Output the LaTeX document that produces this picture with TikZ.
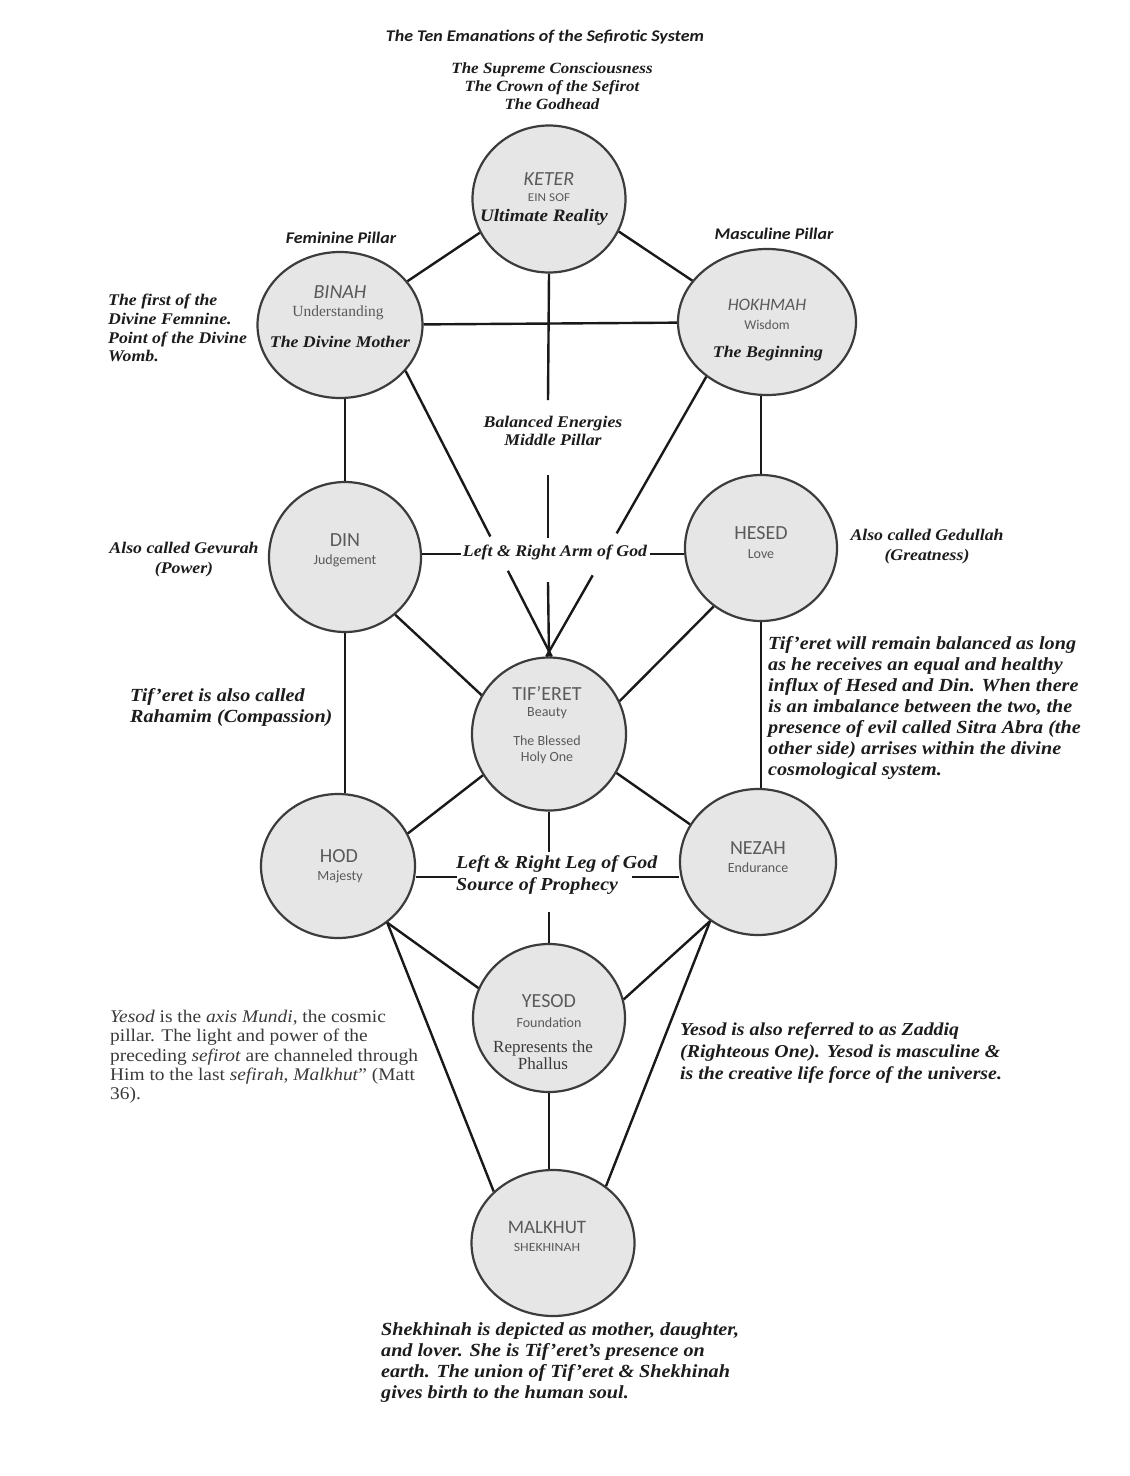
\documentclass[tikz,border=0pt]{standalone}
\usepackage{fontspec}
\setmainfont{Liberation Serif}
\newfontfamily\wserif[FakeStretch=1.09]{Liberation Serif}
\newfontfamily\carl{Carlito}
\newfontfamily\wsans[FakeStretch=1.1]{Carlito}
\usetikzlibrary{shapes.geometric,calc}
\definecolor{fillg}{HTML}{E6E6E6}
\definecolor{edgeg}{HTML}{3C3C3C}
\definecolor{labg}{HTML}{5A5A5A}
\definecolor{ink}{HTML}{1C1C1C}
\definecolor{plain}{HTML}{3A3A3A}
\tikzset{
  sef/.style={ellipse, draw=edgeg, fill=fillg, line width=2.2pt, inner sep=0pt},
  conn/.style={line width=2.4pt, draw=black!90},
  nm/.style={font=\carl\fontsize{20}{22}\selectfont, text=labg, inner sep=0pt},
  nmi/.style={font=\carl\itshape\fontsize{20}{22}\selectfont, text=labg, inner sep=0pt},
  sub/.style={font=\carl\fontsize{14}{16}\selectfont, text=labg, inner sep=0pt},
  subs/.style={font=\wsans\fontsize{12}{14}\selectfont, text=labg, inner sep=0pt},
  note/.style={font=\wserif\bfseries\itshape\fontsize{18.5}{21}\selectfont, text=ink, inner sep=0pt},
  noteb/.style={font=\wserif\bfseries\itshape\fontsize{16.3}{18}\selectfont, text=ink, inner sep=0pt},
  head/.style={font=\wsans\bfseries\itshape\fontsize{16.3}{18}\selectfont, text=ink, inner sep=0pt},
}
\begin{document}
\begin{tikzpicture}[x=1pt,y=-1pt]
\useasboundingbox (0,0) rectangle (1130,1476);
\fill[white] (0,0) rectangle (1130,1476);

% sefirot
\node[sef, minimum width=153pt, minimum height=147pt] (keter) at (549,199) {};
\node[sef, minimum width=165pt, minimum height=146pt] (binah) at (340,325) {};
\node[sef, minimum width=178pt, minimum height=146pt] (hokhmah) at (767,322) {};
\node[sef, minimum width=152pt, minimum height=150pt] (din) at (345,557) {};
\node[sef, minimum width=152pt, minimum height=146pt] (hesed) at (761,548) {};
\node[sef, minimum width=154pt, minimum height=153pt] (tiferet) at (549,734) {};
\node[sef, minimum width=154pt, minimum height=144pt] (hod) at (338,866) {};
\node[sef, minimum width=156pt, minimum height=146pt] (nezah) at (758,862) {};
\node[sef, minimum width=152pt, minimum height=148pt] (yesod) at (549,1018) {};
\node[sef, minimum width=163pt, minimum height=146pt] (malkhut) at (553,1243) {};

% gap coordinates
\coordinate (mpA) at (548,400);
\coordinate (mpB) at (548,475);
\coordinate (mpC) at (548,538);
\coordinate (mpD) at (548,582);
\coordinate (armL) at (461,554);
\coordinate (armR) at (650,554);
\coordinate (legL) at (457,877);
\coordinate (legR) at (632,877);
\coordinate (legT) at (549,852);
\coordinate (legB) at (549,912);

% connectors
\draw[conn] (keter.206) -- (binah.33);
\draw[conn] (keter.335) -- (hokhmah.151);
\draw[conn] (binah) -- (hokhmah);
\draw[conn] (keter.south) -- (mpA);
\draw[conn] (mpB) -- (mpC);
\draw[conn] (mpD) -- (tiferet.north);
\draw[conn] (din.north) -- (din.north |- binah.south);
\draw[conn] (hesed.north) -- (hesed.north |- hokhmah.south);
\draw[conn] (binah.325) -- ($(binah.325)!0.58!(tiferet.88)$);
\draw[conn] ($(binah.325)!0.70!(tiferet.88)$) -- (tiferet.88);
\draw[conn] (hokhmah.222) -- ($(hokhmah.222)!0.56!(tiferet.92)$);
\draw[conn] ($(hokhmah.222)!0.71!(tiferet.92)$) -- (tiferet.92);
\draw[conn] (armL -| din.east) -- (armL);
\draw[conn] (armR) -- (armR -| hesed.west);
\draw[conn] (din.311) -- (tiferet.150);
\draw[conn] (hesed.231) -- (tiferet.25);
\draw[conn] (din.south) -- (din.south |- hod.north);
\draw[conn] (hesed.south) -- (hesed.south |- nezah.north);
\draw[conn] (tiferet.212) -- (hod.25);
\draw[conn] (tiferet.330) -- (nezah.151);
\draw[conn] (tiferet.south) -- (legT);
\draw[conn] (legB) -- (yesod.north);
\draw[conn] (legL -| hod.east) -- (legL);
\draw[conn] (legR) -- (legR -| nezah.west);
\draw[conn] (hod.311) -- (yesod.157);
\draw[conn] (hod.311) -- (malkhut.139);
\draw[conn] (nezah.231) -- (yesod.14);
\draw[conn] (nezah.231) -- (malkhut.47);
\draw[conn] (yesod.south) -- (yesod.south |- malkhut.north);

% headings
\node[head] (title) at (545,37) {The Ten Emanations of the Sefirotic System};
\node[noteb, font=\wserif\bfseries\itshape\fontsize{15.6}{18}\selectfont, align=center, anchor=north] (crown) at (552,62)
  {The Supreme Consciousness\\The Crown of the Sefirot\\The Godhead};
\node[head] (fem) at (341,238) {Feminine Pillar};
\node[head] (masc) at (774,234) {Masculine Pillar};

% labels inside circles
\node[nmi] (lketer) at (549,179) {KETER};
\node[subs] (lein) at (549,198) {EIN SOF};
\node[note, font=\wserif\bfseries\itshape\fontsize{17.5}{19}\selectfont] (lult) at (544,217) {Ultimate Reality};

\node[nmi] (lbinah) at (340,292) {BINAH};
\node[inner sep=0pt, text=labg, font=\fontsize{15.5}{17}\selectfont] (lund) at (338,313) {Understanding};
\node[noteb] (lmother) at (340,342) {The Divine Mother};

\node[nmi, font=\carl\itshape\fontsize{17.5}{19}\selectfont] (lhok) at (767,305) {HOKHMAH};
\node[sub, font=\carl\fontsize{13.5}{15}\selectfont] (lwis) at (767,325) {Wisdom};
\node[noteb] (lbeg) at (768,354) {The Beginning};

\node[nm] (ldin) at (345,540) {DIN};
\node[sub] (ljud) at (345,561) {Judgement};

\node[nm] (lhesed) at (761,533) {HESED};
\node[sub] (llove) at (761,554) {Love};

\node[nm] (ltif) at (547,693) {TIF’ERET};
\node[sub] (lbeauty) at (547,713) {Beauty};
\node[sub, align=center, font=\carl\fontsize{14}{16}\selectfont] (lholy) at (547,750) {The Blessed\\Holy One};

\node[nm] (lhod) at (339,856) {HOD};
\node[sub] (lmaj) at (340,877) {Majesty};

\node[nm] (lnez) at (758,848) {NEZAH};
\node[sub] (lend) at (758,868) {Endurance};

\node[nm] (lyes) at (549,1001) {YESOD};
\node[sub] (lfound) at (549,1023) {Foundation};
\node[inner sep=0pt, text=plain, align=center, font=\fontsize{17}{17.5}\selectfont] (lphal) at (543,1055) {Represents the\\Phallus};

\node[nm, font=\carl\fontsize{19}{21}\selectfont] (lmal) at (547,1227) {MALKHUT};
\node[subs, font=\wsans\fontsize{12.5}{14}\selectfont] (lshek) at (547,1247) {SHEKHINAH};

% side notes
\node[noteb, font=\wserif\bfseries\itshape\fontsize{16.3}{18.7}\selectfont, align=left, anchor=north west] (nbinah) at (108,294)
  {The first of the\\Divine Femnine.\\Point of the Divine\\Womb.};
\node[noteb, align=center] (nmid) at (553,431)
  {Balanced Energies\\Middle Pillar};
\node[noteb, align=center, font=\wserif\bfseries\itshape\fontsize{16.3}{20}\selectfont] (ngev) at (184,560)
  {Also called Gevurah\\(Power)};
\node[noteb] (narm) at (555,552) {Left \& Right Arm of God};
\node[noteb, align=center, font=\wserif\bfseries\itshape\fontsize{16.3}{20}\selectfont] (nged) at (927,547)
  {Also called Gedullah\\(Greatness)};
\node[note, align=left, anchor=north west] (nbal) at (768,636)
  {Tif’eret will remain balanced as long\\as he receives an equal and healthy\\influx of Hesed and Din. When there\\is an imbalance between the two, the\\presence of evil called Sitra Abra (the\\other side) arrises within the divine\\cosmological system.};
\node[note, align=left, anchor=north west] (nrah) at (130,688)
  {Tif’eret is also called\\Rahamim (Compassion)};
\node[note, align=left, anchor=north west, font=\wserif\bfseries\itshape\fontsize{18.3}{22}\selectfont] (nleg) at (456,855)
  {Left \& Right Leg of God\\Source of Prophecy};
\node[inner sep=0pt, text=plain, align=left, anchor=north west, font=\wserif\fontsize{17.8}{19.3}\selectfont] (naxis) at (110,1010)
  {\textit{Yesod} is the \textit{axis Mundi}, the cosmic\\pillar. The light and power of the\\preceding \textit{sefirot} are channeled through\\Him to the last \textit{sefirah}, \textit{Malkhut}” (Matt\\36).};
\node[note, align=left, anchor=north west, font=\wserif\bfseries\itshape\fontsize{18.2}{22}\selectfont] (nzad) at (680,1022)
  {Yesod is also referred to as Zaddiq\\(Righteous One). Yesod is masculine \&\\is the creative life force of the universe.};
\node[note, align=left, anchor=north west] (nshek) at (381,1322)
  {Shekhinah is depicted as mother, daughter,\\and lover. She is Tif’eret’s presence on\\earth. The union of Tif’eret \& Shekhinah\\gives birth to the human soul.};
\end{tikzpicture}
\end{document}
